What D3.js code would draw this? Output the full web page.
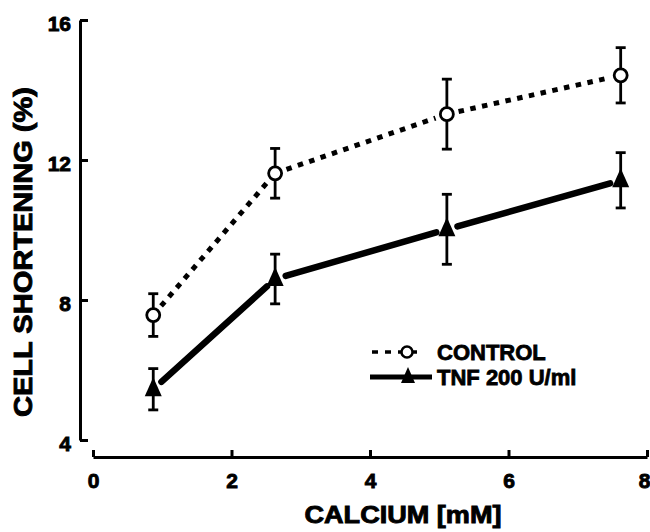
<!DOCTYPE html>
<html>
<head>
<meta charset="utf-8">
<script src="https://cdn.jsdelivr.net/npm/d3@7"></script>
<style>
  html, body { margin: 0; padding: 0; background: #fff; }
  svg { display: block; }
  text { font-family: "Liberation Sans", Arial, Helvetica, sans-serif; font-weight: bold; fill: #000; }
</style>
</head>
<body>
<svg id="chart" width="650" height="532"></svg>
<script>
// ---- data ----
const calcium = [0.87, 2.63, 5.11, 7.62];
const controlMean = [7.57, 11.62, 13.31, 14.42];
const controlErr  = [0.61, 0.71, 1.0, 0.79];
const tnfMean = [5.45, 8.6, 10.02, 11.42];
const tnfErr  = [0.59, 0.71, 1.0, 0.79];
const xTicks = [0, 2, 4, 6, 8];
const yTicks = [4, 8, 12, 16];
const seriesNames = ["CONTROL", "TNF 200 U/ml"];
const xTitle = "CALCIUM  [mM]";
const yTitle = "CELL SHORTENING  (%)";

const svg = d3.select("#chart");
const x = d3.scaleLinear().domain([0, 8]).range([93, 647]);
const y = d3.scaleLinear().domain([4, 16]).range([440, 20]);

// ---- axes ----
const yAxis = d3.axisLeft(y).tickValues(yTicks).tickSizeInner(-8).tickSizeOuter(0).tickPadding(9).tickFormat(d3.format("d"));
const gy = svg.append("g").attr("transform", "translate(80,0)").call(yAxis);
const xAxis = d3.axisBottom(x).tickValues(xTicks).tickSizeInner(-7).tickSizeOuter(0).tickPadding(16).tickFormat(d3.format("d"));
const gx = svg.append("g").attr("transform", "translate(0,457)").call(xAxis);
[gx, gy].forEach(g => {
  g.select(".domain").attr("stroke", "#000").attr("stroke-width", 3);
  g.selectAll(".tick line").attr("stroke", "#000").attr("stroke-width", 3);
  g.selectAll(".tick text").attr("font-size", 21).attr("fill", "#000")
    .attr("stroke", "#000").attr("stroke-width", 0.9)
    .attr("font-family", "'Liberation Sans', Arial, sans-serif").attr("font-weight", "bold");
});
gy.selectAll(".tick text").attr("dy", "0.5em");
// keep the last x label inside the page edge
gx.selectAll(".tick text").filter(d => d === 8).attr("dx", -3);

// ---- titles ----
svg.append("text").attr("x", 403).attr("y", 523).attr("text-anchor", "middle")
  .attr("font-size", 24).attr("stroke", "#000").attr("stroke-width", 0.9)
  .attr("textLength", 197).attr("lengthAdjust", "spacingAndGlyphs").text(xTitle);
svg.append("text").attr("transform", "translate(32,252) rotate(-90)").attr("text-anchor", "middle")
  .attr("font-size", 25).attr("stroke", "#000").attr("stroke-width", 0.9)
  .attr("textLength", 330).attr("lengthAdjust", "spacingAndGlyphs").text(yTitle);

// ---- helpers ----
function segments(xs, ys, gap) {
  const segs = [];
  for (let i = 0; i < xs.length - 1; i++) {
    const x1 = x(xs[i]), y1 = y(ys[i]), x2 = x(xs[i + 1]), y2 = y(ys[i + 1]);
    const dx = x2 - x1, dy = y2 - y1, L = Math.hypot(dx, dy);
    const ux = dx / L, uy = dy / L;
    segs.push([x1 + ux * gap, y1 + uy * gap, x2 - ux * gap, y2 - uy * gap]);
  }
  return segs;
}
function triPath(cx, cy, w, up, down) {
  return `M${cx},${cy - up}L${cx + w / 2},${cy + down}L${cx - w / 2},${cy + down}Z`;
}

// ---- lines ----
const gLines = svg.append("g");
gLines.selectAll("line.ctl").data(segments(calcium, controlMean, 12)).join("line")
  .attr("x1", d => d[0]).attr("y1", d => d[1]).attr("x2", d => d[2]).attr("y2", d => d[3])
  .attr("stroke", "#000").attr("stroke-width", 5).attr("stroke-dasharray", "5.5,6.5");
gLines.selectAll("line.tnf").data(segments(calcium, tnfMean, 11)).join("line")
  .attr("x1", d => d[0]).attr("y1", d => d[1]).attr("x2", d => d[2]).attr("y2", d => d[3])
  .attr("stroke", "#000").attr("stroke-width", 6.5).attr("stroke-linecap", "round");

// ---- error bars ----
function errorBars(means, errs) {
  const g = svg.append("g").attr("stroke", "#000").attr("stroke-width", 2.8);
  calcium.forEach((c, i) => {
    const cx = x(c), top = y(means[i] + errs[i]), bot = y(means[i] - errs[i]);
    g.append("line").attr("x1", cx).attr("x2", cx).attr("y1", top).attr("y2", bot);
    g.append("line").attr("x1", cx - 5).attr("x2", cx + 5).attr("y1", top).attr("y2", top);
    g.append("line").attr("x1", cx - 5).attr("x2", cx + 5).attr("y1", bot).attr("y2", bot);
  });
}
errorBars(controlMean, controlErr);
errorBars(tnfMean, tnfErr);

// ---- markers ----
svg.append("g").selectAll("circle").data(calcium).join("circle")
  .attr("cx", d => x(d)).attr("cy", (d, i) => y(controlMean[i])).attr("r", 6.5)
  .attr("fill", "#fff").attr("stroke", "#000").attr("stroke-width", 2.8);
svg.append("g").selectAll("path").data(calcium).join("path")
  .attr("d", (d, i) => triPath(x(d), y(tnfMean[i]), 17, 12, 7)).attr("fill", "#000");

// ---- legend ----
const lg = svg.append("g");
lg.append("line").attr("x1", 372).attr("x2", 423).attr("y1", 352).attr("y2", 352)
  .attr("stroke", "#000").attr("stroke-width", 3.5).attr("stroke-dasharray", "6,7");
lg.append("circle").attr("cx", 407).attr("cy", 352).attr("r", 5.5)
  .attr("fill", "#fff").attr("stroke", "#000").attr("stroke-width", 2.5);
lg.append("line").attr("x1", 370).attr("x2", 432).attr("y1", 377).attr("y2", 377)
  .attr("stroke", "#000").attr("stroke-width", 5);
lg.append("path").attr("d", triPath(408, 377, 14, 10, 6)).attr("fill", "#000");
lg.selectAll("text").data(seriesNames).join("text")
  .attr("x", 437).attr("y", (d, i) => 360 + i * 25)
  .attr("font-size", 22).attr("stroke", "#000").attr("stroke-width", 0.8)
  .text(d => d);
</script>
</body>
</html>
